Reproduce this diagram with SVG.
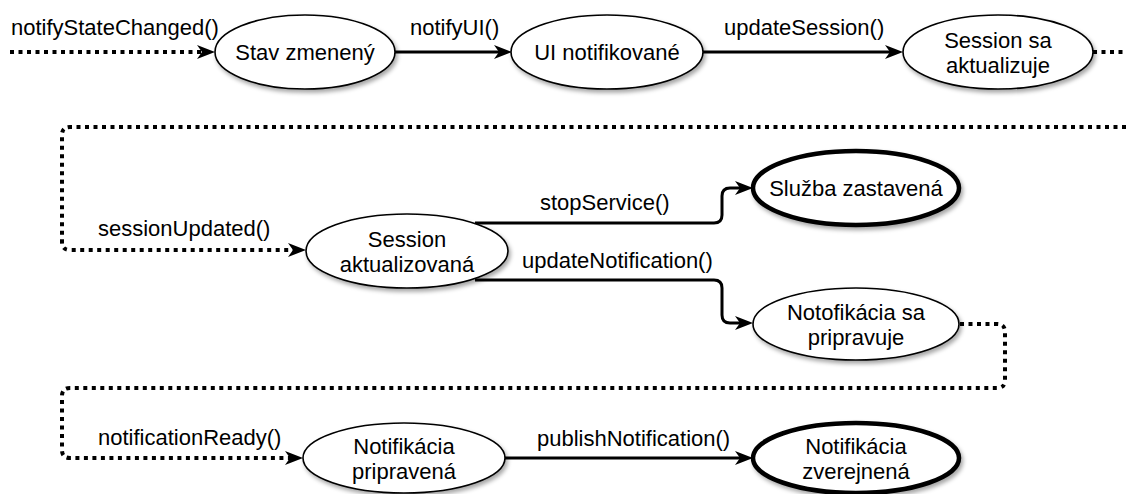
<svg xmlns="http://www.w3.org/2000/svg" width="1126" height="494" viewBox="0 0 1126 494">
<style>
text{font-family:"Liberation Sans",Arial,Helvetica,sans-serif;font-size:22px;fill:#000}
.n text,.t text{text-anchor:middle}
.n ellipse{fill:#fff;stroke:#000;stroke-width:1.6;filter:url(#sh)}
.t ellipse{fill:#fff;stroke:#000;stroke-width:4.5;filter:url(#sh)}
.c{fill:none;stroke:#000;stroke-width:3;marker-end:url(#ah)}
.d{fill:none;stroke:#000;stroke-width:4;stroke-dasharray:4 4.5}
.d.a{marker-end:url(#ah)}
</style>
<defs>
<filter id="sh" x="-20%" y="-20%" width="150%" height="160%">
<feDropShadow dx="2" dy="3" stdDeviation="2" flood-color="#000" flood-opacity="0.35"/>
</filter>
<marker id="ah" markerUnits="userSpaceOnUse" markerWidth="18" markerHeight="14" refX="5" refY="7" orient="auto" overflow="visible">
<path d="M0,0 L18,7 L0,14 L5,7 z" fill="#000"/>
</marker>
</defs>
<g id="connectors">
<path class="d a" d="M10 52 H202"/>
<path class="c" d="M395 52 H499"/>
<path class="c" d="M703 52 H890"/>
<path class="d" d="M1093 52 H1126"/>
<path class="d a" d="M1126 127 H70 Q62 127 62 135 V242 Q62 250 70 250 H293"/>
<path class="c" d="M475 223 H714 Q722 223 722 215 V196 Q722 188 730 188 H740"/>
<path class="c" d="M475 280 H714 Q722 280 722 288 V315 Q722 323 730 323 H740"/>
<path class="d a" d="M960 324 H997 Q1005 324 1005 332 V380 Q1005 388 997 388 H70 Q62 388 62 396 V450 Q62 458 70 458 H290"/>
<path class="c" d="M505 458 H740"/>
<text x="11" y="35">notifyStateChanged()</text>
<text x="410" y="35">notifyUI()</text>
<text x="724" y="35">updateSession()</text>
<text x="98" y="236">sessionUpdated()</text>
<text x="540" y="210">stopService()</text>
<text x="522" y="268">updateNotification()</text>
<text x="98" y="445">notificationReady()</text>
<text x="537" y="446">publishNotification()</text>
</g>
<g id="stav-zmeneny" class="n">
<ellipse cx="305" cy="52" rx="90" ry="37"/>
<text x="305" y="60">Stav zmenený</text>
</g>
<g id="ui-notifikovane" class="n">
<ellipse cx="607" cy="52" rx="96" ry="37"/>
<text x="607" y="60">UI notifikované</text>
</g>
<g id="session-sa-aktualizuje" class="n">
<ellipse cx="998" cy="52" rx="95" ry="37"/>
<text x="998" y="47.5">Session sa</text>
<text x="998" y="72.5">aktualizuje</text>
</g>
<g id="session-aktualizovana" class="n">
<ellipse cx="407" cy="251" rx="101" ry="37"/>
<text x="407" y="246.5">Session</text>
<text x="407" y="271.5">aktualizovaná</text>
</g>
<g id="sluzba-zastavena" class="t">
<ellipse cx="856" cy="188" rx="103" ry="37"/>
<text x="856" y="196">Služba zastavená</text>
</g>
<g id="notifikacia-sa-pripravuje" class="n">
<ellipse cx="856" cy="324" rx="103" ry="36"/>
<text x="856" y="319.5">Notofikácia sa</text>
<text x="856" y="344.5">pripravuje</text>
</g>
<g id="notifikacia-pripravena" class="n">
<ellipse cx="404" cy="458" rx="101" ry="35"/>
<text x="404" y="453.5">Notifikácia</text>
<text x="404" y="478.5">pripravená</text>
</g>
<g id="notifikacia-zverejnena" class="t">
<ellipse cx="856" cy="458" rx="103" ry="35"/>
<text x="856" y="453.5">Notifikácia</text>
<text x="856" y="478.5">zverejnená</text>
</g>
</svg>
